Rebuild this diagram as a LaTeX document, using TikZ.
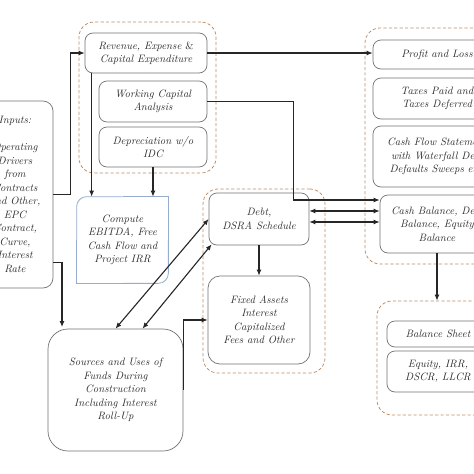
\documentclass[tikz,border=0pt]{standalone}
\usepackage{tikz}
\usetikzlibrary{positioning, calc, arrows.meta}
\usepackage{xcolor}

\definecolor{boxgray}{RGB}{115,115,115}
\definecolor{groupline}{RGB}{192,140,100}
\definecolor{computeblue}{RGB}{150,172,204}
\definecolor{textgray}{RGB}{45,45,45}

\tikzset{
    stage/.style={draw=boxgray, line width=0.7pt, rounded corners=8pt, align=center,
        font=\itshape\fontsize{10.7}{13.5}\selectfont, text=textgray, inner sep=1pt},
    group/.style={draw=groupline, line width=0.75pt, dash pattern=on 3.2pt off 2.2pt, rounded corners=15pt},
    flow/.style={draw=black!85, line width=1.1pt, -{Latex[length=6pt,width=5pt]}},
    twoway/.style={flow, {Latex[length=6pt,width=5pt]}-{Latex[length=6pt,width=5pt]}}
}

\begin{document}
\begin{tikzpicture}[x=1pt, y=-1pt]
    \clip (0,0) rectangle (474,474);
    \fill[white] (0,0) rectangle (474,474);

    % dashed groups
    \node[group, minimum width=137, minimum height=151] (grpModel) at (147.5,97.5) {};
    \node[group, minimum width=122, minimum height=184] (grpDebt) at (264,281) {};
    \node[group, minimum width=150, minimum height=236] (grpReport) at (440,146) {};
    \node[group, minimum width=142, minimum height=114] (grpResult) at (448,358) {};

    % left column
    \node[stage, rounded corners=10pt, minimum width=76, minimum height=187] (Inputs) at (15,194.5)
        {Inputs:\\[13.5pt]Operating\\Drivers\\from\\Contracts\\and Other,\\EPC\\Contract,\\Curve,\\Interest\\Rate};
    \node[stage, rounded corners=20pt, minimum width=135, minimum height=122] (Sources) at (115.5,390)
        {Sources and Uses of\\Funds During\\Construction\\Including Interest\\Roll-Up};

    % model group
    \node[stage, minimum width=122, minimum height=40] (Revenue) at (146,53) {Revenue, Expense \textup{\&}\\Capital Expenditure};
    \node[stage, minimum width=108, minimum height=41] (WorkCap) at (153,101.5) {Working Capital\\Analysis};
    \node[stage, minimum width=108, minimum height=40] (Deprec) at (153,147) {Depreciation w/o\\IDC};

    \node[stage, draw=none, minimum width=91, minimum height=86] (Compute) at (122.5,240)
        {Compute\\EBITDA, Free\\Cash Flow and\\Project IRR};
    \draw[computeblue, line width=0.8pt, rounded corners=10pt] (Compute.west) -- (Compute.north west) -- (Compute.north);
    \draw[computeblue, line width=0.8pt] (Compute.north) -- (Compute.north east) -- (Compute.east);
    \draw[computeblue, line width=0.8pt, rounded corners=10pt] (Compute.east) -- (Compute.south east) -- (Compute.south);
    \draw[computeblue, line width=0.8pt] (Compute.south) -- (Compute.south west) -- (Compute.west);

    % debt group
    \node[stage, minimum width=100, minimum height=52] (Debt) at (259,219) {Debt,\\DSRA Schedule};
    \node[stage, rounded corners=12pt, minimum width=102, minimum height=88] (Fixed) at (259,320)
        {Fixed Assets\\Interest\\Capitalized\\Fees and Other};

    % report group
    \node[stage, minimum width=128, minimum height=29] (PnL) at (437,54.5) {Profit and Loss};
    \node[stage, minimum width=128, minimum height=41] (Taxes) at (437,98.5) {Taxes Paid and\\Taxes Deferred};
    \node[stage, minimum width=128, minimum height=61] (CashFlow) at (437,156.5)
        {Cash Flow Statement\\with Waterfall Debt\\Defaults Sweeps etc.};
    \node[stage, minimum width=114, minimum height=58] (CashBal) at (437,224)
        {Cash Balance, Debt\\Balance, Equity\\Balance};

    % result group
    \node[stage, minimum width=102, minimum height=26] (BalSheet) at (438,334) {Balance Sheet};
    \node[stage, minimum width=102, minimum height=41] (Equity) at (438,371.5) {Equity, IRR,\\DSCR, LLCR};

    % connectors
    \coordinate (revDown) at ($(Revenue.south west)+(7,0)$);
    \coordinate (srcIn) at (62,327);
    \draw[flow] (Inputs.east) -- ++(17,0) |- (Revenue.west);
    \draw[flow] ($(Inputs.east)+(0,68)$) -| (srcIn);
    \draw[flow] (Revenue.east) -- (Revenue.east -| PnL.west);
    \draw[flow] (WorkCap.east) -- ++(86,0) |- ($(CashBal.west)+(0,-24)$);
    \draw[flow] (revDown) -- (revDown |- Compute.north);
    \draw[flow] (Deprec.south) -- (Deprec.south |- Compute.north);
    \draw[twoway] ($(Debt.east)+(0,-8)$) -- ($(CashBal.west |- Debt.east)+(0,-8)$);
    \draw[twoway] ($(Debt.east)+(0,3)$) -- ($(CashBal.west |- Debt.east)+(0,3)$);
    \draw[flow] (Debt.south) -- (Fixed.north);
    \draw[twoway] (Debt.west) -- (Sources.north);
    \draw[twoway] ($(Debt.south west)+(3,-1)$) -- ($(Sources.north)+(27,0)$);
    \draw[flow] (Sources.east) |- (Fixed.west);
    \draw[flow] (CashBal.south) -- (CashBal.south |- grpResult.north);
\end{tikzpicture}
\end{document}
